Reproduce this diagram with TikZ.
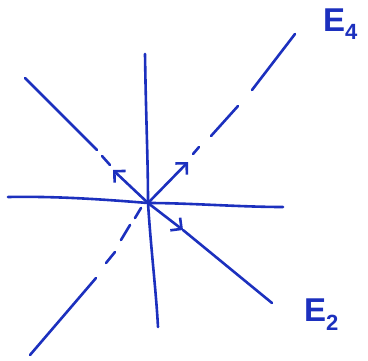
\documentclass[tikz,border=0pt]{standalone}
\usepackage{fontspec}
\setmainfont{Liberation Sans}
\usetikzlibrary{arrows.meta}
\definecolor{ink}{RGB}{28,48,190}
\begin{document}
\begin{tikzpicture}[x=1pt,y=-1pt,
  pen/.style={draw=ink,line width=2.6pt,line cap=round,line join=round},
  vec/.style={pen,-{Straight Barb[length=8pt,width=16pt,line width=2.6pt]}},
  lbl/.style={text=ink,font=\bfseries\fontsize{33}{33}\selectfont,inner sep=0pt}]
\useasboundingbox (0,0) rectangle (368,360);
\coordinate (O) at (148,203);
% vertical and horizontal
\coordinate (vt) at (145,54);
\coordinate (vb) at (158,327);
\coordinate (hl) at (8,197);
\coordinate (hr) at (283,207);
\draw[pen] (vt) .. controls (146,120) and (148,160) .. (O) .. controls (151,250) and (156,290) .. (vb);
\draw[pen] (hl) .. controls (60,196) and (110,200) .. (O) .. controls (190,203) and (240,207) .. (hr);
% NW-SE diagonal (E2)
\coordinate (nw) at (25,78);
\coordinate (nws) at (97,150);
\coordinate (nwd1) at (102,156);
\coordinate (nwd2) at (110,165);
\coordinate (v1) at (113,170);
\coordinate (v2) at (183,230);
\coordinate (se) at (272,303);
\draw[pen] (nw) -- (nws);
\draw[pen] (nwd1) -- (nwd2);
\draw[vec] (O) -- (v1);
\draw[vec] (O) -- (v2);
\draw[pen] (v2) -- (se);
% SW-NE diagonal (E4)
\coordinate (sw) at (30,355);
\coordinate (sws) at (96,278);
\coordinate (swd1) at (106,263);
\coordinate (swd2) at (115,252);
\coordinate (swd3) at (121,240);
\coordinate (swd4) at (130,225);
\coordinate (swd5) at (135,218);
\coordinate (swd6) at (141,208);
\draw[pen] (sw) -- (sws);
\draw[pen] (swd1) -- (swd2);
\draw[pen] (swd3) -- (swd4);
\draw[pen] (swd5) -- (swd6);
\coordinate (v4) at (188,162);
\coordinate (ned1) at (193,154);
\coordinate (ned2) at (199,147);
\coordinate (ned3) at (211,136);
\coordinate (ned4) at (238,106);
\coordinate (nes) at (252,90);
\coordinate (ne) at (295,34);
\draw[vec] (O) -- (v4);
\draw[pen] (ned1) -- (ned2);
\draw[pen] (ned3) -- (ned4);
\draw[pen] (nes) -- (ne);
% labels
\node[lbl,anchor=west] (E4) at (323,24) {E\raisebox{-0.45ex}{\fontsize{22}{22}\selectfont 4}};
\node[lbl,anchor=west] (E2) at (304,315) {E\raisebox{-0.5ex}{\fontsize{22}{22}\selectfont 2}};
\end{tikzpicture}
\end{document}
